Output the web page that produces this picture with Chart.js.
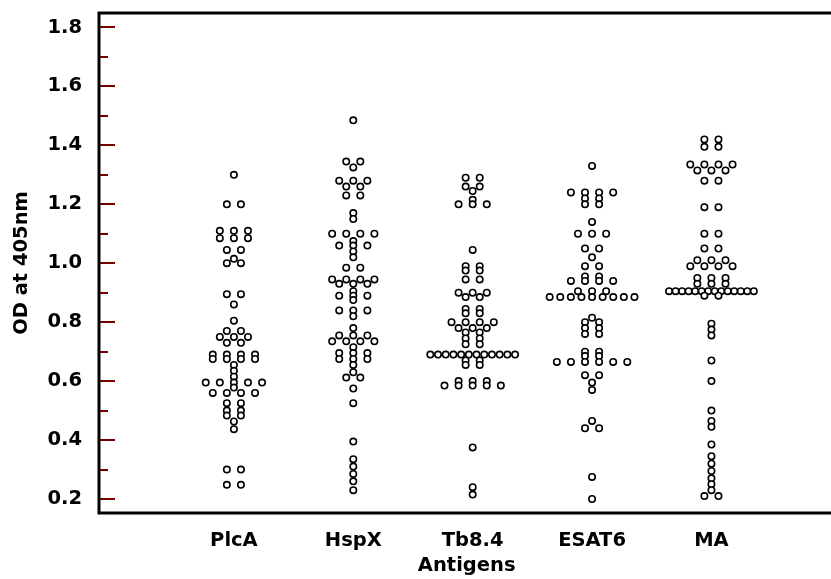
<!DOCTYPE html>
<html>
<head>
<meta charset="utf-8">
<script src="https://cdn.jsdelivr.net/npm/chart.js@4/dist/chart.umd.min.js"></script>
<style>
  html, body { margin: 0; padding: 0; background: #fff; overflow: hidden; }
  #wrap { width: 840px; height: 579px; }
</style>
</head>
<body>
<div id="wrap"><canvas id="dotplot" width="840" height="579"></canvas></div>
<script>
// antigen names, x positions 1..5
const antigens = ['PlcA', 'HspX', 'Tb8.4', 'ESAT6', 'MA'];

// OD at 405nm readings per antigen
const plcA = [
  1.30, 1.20, 1.20, 1.11, 1.11, 1.11, 1.085, 1.085, 1.085, 1.045, 1.045, 1.015, 1.00, 1.00,
  0.895, 0.895, 0.86, 0.805, 0.77, 0.77, 0.75, 0.75, 0.75, 0.73, 0.73,
  0.69, 0.69, 0.69, 0.69, 0.675, 0.675, 0.675, 0.675, 0.655, 0.635, 0.615,
  0.595, 0.595, 0.595, 0.595, 0.595, 0.578, 0.56, 0.56, 0.56, 0.56,
  0.525, 0.525, 0.50, 0.50, 0.483, 0.483, 0.463, 0.437, 0.30, 0.30, 0.248, 0.248,
];
const hspX = [
  1.485, 1.345, 1.345, 1.325, 1.28, 1.28, 1.28, 1.26, 1.26, 1.23, 1.23, 1.17, 1.15,
  1.10, 1.10, 1.10, 1.10, 1.075, 1.06, 1.06, 1.06, 1.04, 1.02, 0.985, 0.985,
  0.945, 0.945, 0.945, 0.945, 0.93, 0.93, 0.93, 0.905, 0.89, 0.89, 0.89, 0.875,
  0.84, 0.84, 0.84, 0.82, 0.78, 0.755, 0.755, 0.755, 0.735, 0.735, 0.735, 0.735,
  0.715, 0.695, 0.695, 0.695, 0.675, 0.675, 0.675, 0.655, 0.63, 0.612, 0.612,
  0.575, 0.525, 0.395, 0.335, 0.31, 0.285, 0.26, 0.23,
];
const tb84 = [
  1.29, 1.29, 1.26, 1.26, 1.245, 1.215, 1.20, 1.20, 1.20, 1.045,
  0.99, 0.99, 0.975, 0.975, 0.945, 0.945, 0.90, 0.90, 0.90, 0.885, 0.885,
  0.845, 0.845, 0.83, 0.83, 0.80, 0.80, 0.80, 0.80, 0.78, 0.78, 0.78,
  0.765, 0.765, 0.745, 0.745, 0.725, 0.725,
  0.69, 0.69, 0.69, 0.69, 0.69, 0.69, 0.69, 0.69, 0.69, 0.69, 0.69, 0.69,
  0.67, 0.67, 0.655, 0.655, 0.60, 0.60, 0.60, 0.585, 0.585, 0.585, 0.585, 0.585,
  0.375, 0.24, 0.215,
];
const esat6 = [
  1.33, 1.24, 1.24, 1.24, 1.24, 1.22, 1.22, 1.20, 1.20, 1.14, 1.10, 1.10, 1.10,
  1.05, 1.05, 1.02, 0.99, 0.99, 0.955, 0.955, 0.94, 0.94, 0.94, 0.94,
  0.905, 0.905, 0.905, 0.885, 0.885, 0.885, 0.885, 0.885, 0.885, 0.885, 0.885, 0.885,
  0.815, 0.80, 0.80, 0.78, 0.78, 0.76, 0.76, 0.70, 0.70, 0.685, 0.685,
  0.665, 0.665, 0.665, 0.665, 0.665, 0.665, 0.62, 0.62, 0.595, 0.57,
  0.465, 0.44, 0.44, 0.275, 0.20,
];
const ma = [
  1.42, 1.42, 1.395, 1.395, 1.335, 1.335, 1.335, 1.335, 1.315, 1.315, 1.315, 1.28, 1.28,
  1.19, 1.19, 1.10, 1.10, 1.05, 1.05, 1.01, 1.01, 1.01, 0.99, 0.99, 0.99, 0.99,
  0.95, 0.95, 0.95, 0.93, 0.93, 0.93,
  0.905, 0.905, 0.905, 0.905, 0.905, 0.905, 0.905, 0.905, 0.905, 0.905, 0.905, 0.905, 0.905, 0.905,
  0.89, 0.89, 0.795, 0.775, 0.755, 0.67, 0.60, 0.50, 0.465, 0.445, 0.385,
  0.345, 0.32, 0.295, 0.27, 0.25, 0.23, 0.21, 0.21,
];

const yMajor = [0.2, 0.4, 0.6, 0.8, 1.0, 1.2, 1.4, 1.6, 1.8];
const yMinor = [0.3, 0.5, 0.7, 0.9, 1.1, 1.3, 1.5, 1.7];

const FONT = "'DejaVu Sans', Verdana, sans-serif";
const LABEL_FONT = { family: FONT, size: 19.5, weight: 'bold' };
const TICK_RED = '#7a0000';
const DOT_STEP = 0.118;   // gap between dots sharing a value, in x units
const ROW_MAX = 0.71;     // widest a row may spread

// lay equal values side by side, centred on the antigen position
function swarm(values, pos) {
  const rows = new Map();
  values.forEach((v) => {
    const k = v.toFixed(3);
    if (!rows.has(k)) rows.set(k, []);
    rows.get(k).push(v);
  });
  const pts = [];
  rows.forEach((row) => {
    const n = row.length;
    const step = n > 1 ? Math.min(DOT_STEP, ROW_MAX / (n - 1)) : 0;
    row.forEach((v, i) => pts.push({ x: pos + (i - (n - 1) / 2) * step, y: v }));
  });
  return pts;
}

const series = [plcA, hspX, tb84, esat6, ma];

// frame plus the inward red ticks on the left axis
const frameAndTicks = {
  id: 'frameAndTicks',
  afterDraw(chart) {
    const { ctx, chartArea: a, scales } = chart;
    const y = scales.y;
    ctx.save();
    ctx.strokeStyle = TICK_RED;
    ctx.lineWidth = 2;
    const mark = (v, len) => {
      const py = Math.round(y.getPixelForValue(v));
      ctx.beginPath();
      ctx.moveTo(a.left, py);
      ctx.lineTo(a.left + len, py);
      ctx.stroke();
    };
    yMajor.forEach((v) => mark(v, 16));
    yMinor.forEach((v) => mark(v, 9));
    ctx.strokeStyle = '#000';
    ctx.lineWidth = 3;
    ctx.strokeRect(a.left, a.top, a.right - a.left, a.bottom - a.top);
    ctx.restore();
  },
};

new Chart(document.getElementById('dotplot'), {
  type: 'scatter',
  data: {
    datasets: series.map((vals, i) => ({
      label: antigens[i],
      data: swarm(vals, i + 1),
      pointStyle: 'circle',
      pointRadius: 3.2,
      pointBorderWidth: 1.6,
      pointBackgroundColor: '#fff',
      pointBorderColor: '#000',
    })),
  },
  options: {
    responsive: false,
    animation: false,
    events: [],
    layout: { padding: { top: 13, right: 5, left: 0, bottom: 0 } },
    plugins: { legend: { display: false }, tooltip: { enabled: false } },
    scales: {
      x: {
        type: 'linear',
        min: -0.13,
        max: 6.03,
        grid: { display: false },
        border: { display: false },
        afterBuildTicks: (s) => { s.ticks = antigens.map((_, i) => ({ value: i + 1 })); },
        afterFit: (s) => { s.height = 66; s.paddingLeft = 0; s.paddingRight = 0; },
        ticks: {
          color: '#000',
          padding: 8,
          maxRotation: 0,
          autoSkip: false,
          font: LABEL_FONT,
          callback: (v) => antigens[v - 1] || '',
        },
        title: {
          display: true,
          text: 'Antigens',
          color: '#000',
          padding: { top: 0, bottom: 1 },
          font: LABEL_FONT,
        },
      },
      y: {
        min: 0.1525,
        max: 1.849,
        grid: { display: false },
        border: { display: false },
        afterBuildTicks: (s) => { s.ticks = yMajor.map((v) => ({ value: v })); },
        afterFit: (s) => { s.width = 99; s.paddingTop = 0; s.paddingBottom = 0; },
        ticks: {
          color: '#000',
          padding: 9,
          font: LABEL_FONT,
          callback: (v) => Number(v).toFixed(1),
        },
        title: {
          display: true,
          text: 'OD at 405nm',
          color: '#000',
          padding: { top: 10, bottom: 0 },
          font: LABEL_FONT,
        },
      },
    },
  },
  plugins: [frameAndTicks],
});
</script>
</body>
</html>
